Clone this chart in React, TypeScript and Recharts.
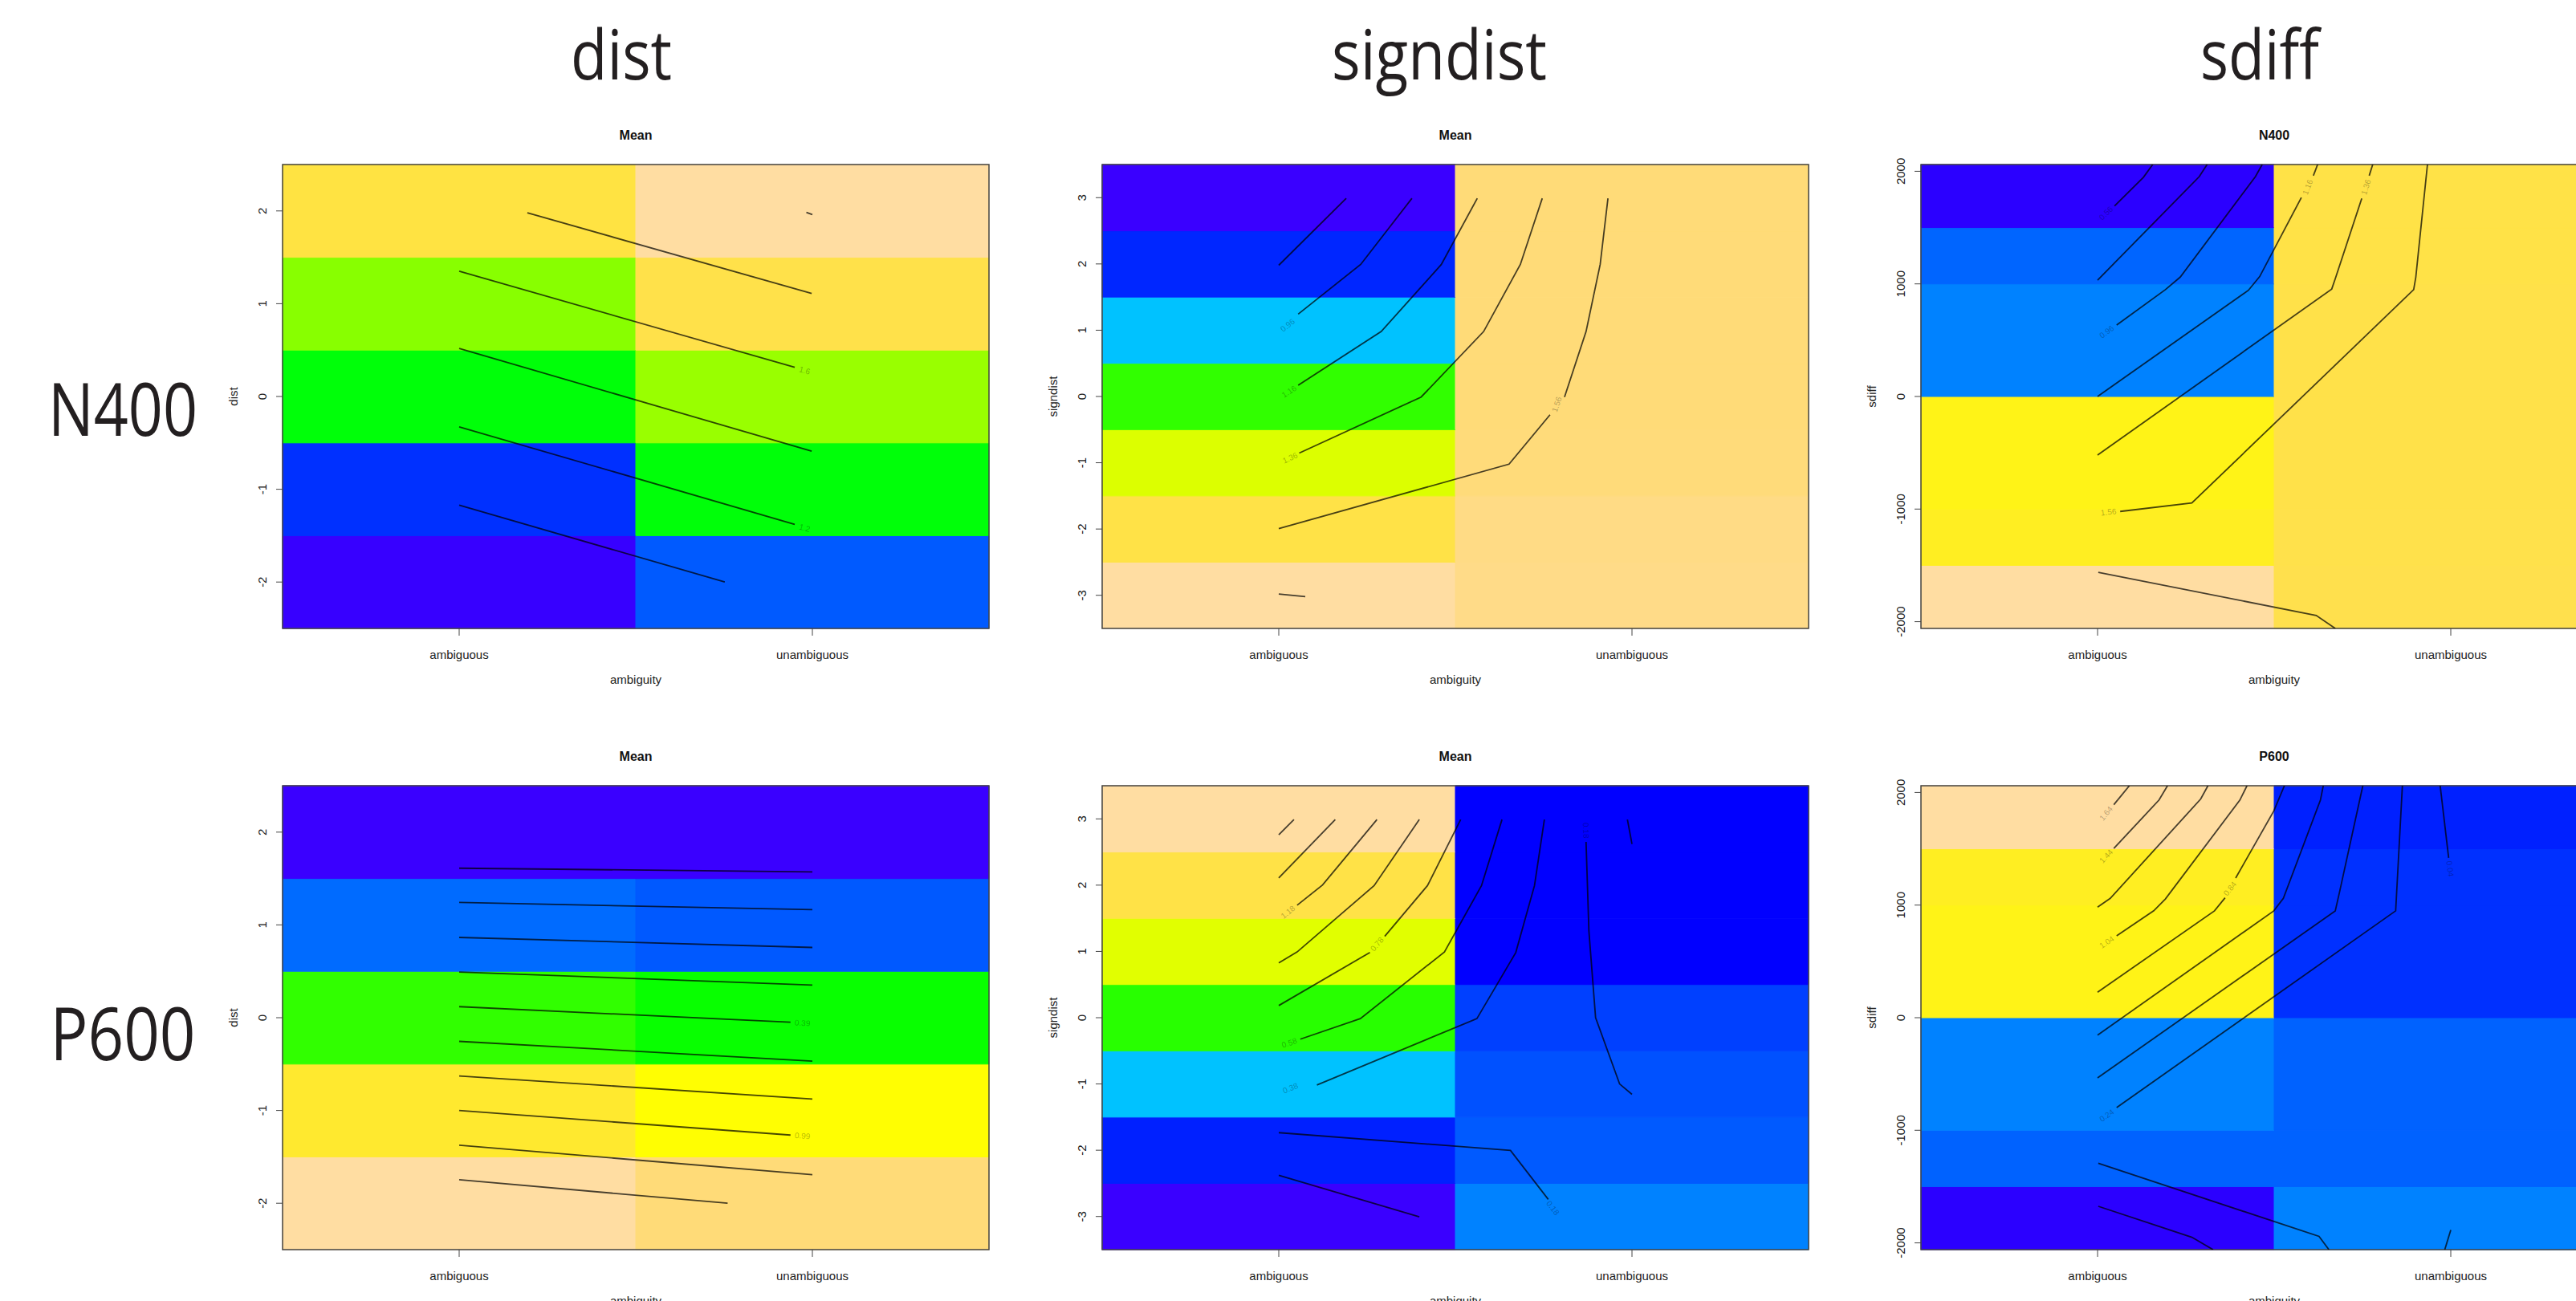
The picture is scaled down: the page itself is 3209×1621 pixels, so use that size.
import React from "react";
import { ComposedChart, XAxis, YAxis, ReferenceArea, Line, Scatter } from "recharts";

type Pt = [number, number];
type Contour = { pieces: Pt[][]; level?: string; at?: Pt };

// ---------- labels ----------
const categories = ["ambiguous", "unambiguous"];
const xName = "ambiguity";
const columnTitles = ["dist", "signdist", "sdiff"];
const rowTitles = ["N400", "P600"];
const panelTitles = [
  ["Mean", "Mean", "N400"],
  ["Mean", "Mean", "P600"],
];

// ---------- grids (row edges, bottom to top) and y ticks ----------
const distEdges = [-2.5, -1.5, -0.5, 0.5, 1.5, 2.5];
const signdistEdges = [-3.5, -2.5, -1.5, -0.5, 0.5, 1.5, 2.5, 3.5];
const sdiffEdges = [-2060, -1500, -1000, 0, 1000, 1500, 2060];
const distTicks = [-2, -1, 0, 1, 2];
const signdistTicks = [-3, -2, -1, 0, 1, 2, 3];
const sdiffTicks = [-2000, -1000, 0, 1000, 2000];

// ---------- fitted means per cell (bottom row first) + colour limits ----------
const n400DistAmb = [0.828, 0.963, 1.288, 1.478, 1.748];
const n400DistUnamb = [1.017, 1.288, 1.5, 1.765, 1.964];
const n400DistZlim = [0.8, 2.0];

const n400SigndistAmb = [1.724, 1.52, 1.348, 1.124, 0.914, 0.71, 0.584];
const n400SigndistUnamb = [1.664, 1.658, 1.634, 1.628, 1.628, 1.628, 1.628];
const n400SigndistZlim = [0.56, 1.76];

const n400SdiffAmb = [1.761, 1.449, 1.423, 0.793, 0.752, 0.548];
const n400SdiffUnamb = [1.553, 1.548, 1.544, 1.544, 1.54, 1.54];
const n400SdiffZlim = [0.5, 1.8];

const p600DistAmb = [1.534, 1.061, 0.434, -0.16, -0.556];
const p600DistUnamb = [1.358, 0.874, 0.335, -0.204, -0.556];
const p600DistZlim = [-0.6, 1.6];

const p600SigndistAmb = [-0.064, 0.112, 0.431, 0.728, 1.092, 1.34, 1.646];
const p600SigndistUnamb = [0.305, 0.226, 0.208, 0.175, 0.049, 0.049, 0.049];
const p600SigndistZlim = [-0.1, 1.7];

const p600SdiffAmb = [-0.03, 0.261, 0.328, 1.249, 1.287, 1.743];
const p600SdiffUnamb = [0.328, 0.261, 0.261, 0.157, 0.157, 0.124];
const p600SdiffZlim = [-0.1, 1.8];

// ---------- contour lines (x = 1 ambiguous, 2 unambiguous) ----------
const n400DistContours: Contour[] = [
  { pieces: [[[1.193, 1.98], [1.998, 1.11]]] },
  { pieces: [[[1.0, 1.35], [1.95, 0.315]]], level: "1.6", at: [1.978, 0.28] },
  { pieces: [[[1.0, 0.517], [1.998, -0.589]]] },
  { pieces: [[[1.0, -0.327], [1.95, -1.378]]], level: "1.2", at: [1.978, -1.417] },
  { pieces: [[[1.0, -1.171], [1.752, -2.0]]] },
  { pieces: [[[1.983, 1.984], [2.0, 1.961]]] },
];

const n400SigndistContours: Contour[] = [
  { pieces: [[[1, 1.98], [1.191, 2.99]]] },
  { pieces: [[[1.055, 1.243], [1.232, 1.993], [1.377, 2.99]]], level: "0.96", at: [1.025, 1.076] },
  { pieces: [[[1.055, 0.169], [1.29, 0.98], [1.46, 1.99], [1.562, 2.99]]], level: "1.16", at: [1.029, 0.075] },
  { pieces: [[[1.058, -0.854], [1.403, -0.009], [1.58, 0.98], [1.684, 1.993], [1.746, 2.99]]], level: "1.36", at: [1.032, -0.927] },
  {
    pieces: [
      [[1, -1.994], [1.652, -1.021], [1.768, -0.276]],
      [[1.809, -0.009], [1.87, 0.98], [1.91, 1.993], [1.932, 2.99]],
    ],
    level: "1.56",
    at: [1.787, -0.12],
  },
  { pieces: [[[1, -2.98], [1.075, -3.02]]] },
];

const n400SdiffContours: Contour[] = [
  { pieces: [[[1.048, 1692], [1.13, 1947], [1.156, 2060]]], level: "0.56", at: [1.024, 1628] },
  { pieces: [[[1, 1032], [1.288, 1953], [1.31, 2060]]] },
  { pieces: [[[1.054, 635], [1.192, 949], [1.234, 1060], [1.447, 1953], [1.466, 2060]]], level: "0.96", at: [1.026, 574] },
  {
    pieces: [
      [[1, 0], [1.427, 943], [1.459, 1065], [1.577, 1767]],
      [[1.611, 1961], [1.623, 2060]],
    ],
    level: "1.16",
    at: [1.595, 1859],
  },
  {
    pieces: [
      [[1, -521], [1.663, 954], [1.673, 1046], [1.748, 1759]],
      [[1.769, 1961], [1.779, 2060]],
    ],
    level: "1.36",
    at: [1.76, 1859],
  },
  { pieces: [[[1.064, -1021], [1.267, -946], [1.895, 949], [1.901, 1060], [1.934, 2060]]], level: "1.56", at: [1.031, -1026] },
  { pieces: [[[1.002, -1562], [1.619, -1945], [1.673, -2060]]] },
];

const p600DistContours: Contour[] = [
  { pieces: [[[1, 1.611], [2, 1.572]]] },
  { pieces: [[[1, 1.242], [2, 1.164]]] },
  { pieces: [[[1, 0.865], [2, 0.757]]] },
  { pieces: [[[1, 0.492], [2, 0.352]]] },
  { pieces: [[[1, 0.119], [1.938, -0.049]]], level: "0.39", at: [1.972, -0.056] },
  { pieces: [[[1, -0.255], [2, -0.468]]] },
  { pieces: [[[1, -0.628], [2, -0.877]]] },
  { pieces: [[[1, -1.001], [1.938, -1.265]]], level: "0.99", at: [1.972, -1.273] },
  { pieces: [[[1, -1.374], [2, -1.693]]] },
  { pieces: [[[1, -1.747], [1.76, -2.0]]] },
];

const p600SigndistContours: Contour[] = [
  { pieces: [[[1, 2.76], [1.043, 2.99]]] },
  { pieces: [[[1, 2.11], [1.16, 2.99]]] },
  { pieces: [[[1.052, 1.697], [1.124, 2.003], [1.278, 2.99]]], level: "1.18", at: [1.026, 1.594] },
  { pieces: [[[1, 0.827], [1.052, 0.992], [1.27, 1.993], [1.398, 2.99]]] },
  {
    pieces: [
      [[1, 0.183], [1.258, 0.983]],
      [[1.3, 1.227], [1.421, 1.993], [1.515, 2.99]],
    ],
    level: "0.78",
    at: [1.278, 1.11],
  },
  { pieces: [[[1.061, -0.324], [1.231, -0.014], [1.469, 0.992], [1.574, 1.993], [1.632, 2.99]]], level: "0.58", at: [1.03, -0.38] },
  { pieces: [[[1.108, -1.016], [1.561, -0.014], [1.671, 0.983], [1.724, 1.993], [1.752, 2.99]]], level: "0.38", at: [1.033, -1.063] },
  { pieces: [[[1.87, 2.652], [1.878, 1.312], [1.897, 0.0], [1.965, -1.0], [2.0, -1.157]]], level: "0.18", at: [1.87, 2.826] },
  { pieces: [[[1.987, 2.99], [2.0, 2.62]]] },
  { pieces: [[[1, -1.735], [1.656, -2.003], [1.763, -2.741]]], level: "0.18", at: [1.776, -2.87] },
  { pieces: [[[1, -2.379], [1.398, -3.004]]] },
];

const p600SdiffContours: Contour[] = [
  { pieces: [[[1.046, 1892], [1.09, 2060]]], level: "1.64", at: [1.024, 1814] },
  { pieces: [[[1.046, 1503], [1.174, 1933], [1.198, 2060]]], level: "1.44", at: [1.024, 1434] },
  { pieces: [[[1, 982], [1.036, 1060], [1.292, 1942], [1.3125, 2060]]] },
  { pieces: [[[1.054, 727], [1.159, 949], [1.192, 1054], [1.403, 1933], [1.423, 2060]]], level: "1.04", at: [1.026, 671] },
  {
    pieces: [
      [[1, 227], [1.331, 949], [1.361, 1065]],
      [[1.391, 1240], [1.499, 1836], [1.529, 2060]],
    ],
    level: "0.84",
    at: [1.375, 1146],
  },
  { pieces: [[[1, -155], [1.499, 949], [1.526, 1060], [1.631, 1933], [1.639, 2060]]] },
  { pieces: [[[1, -535], [1.673, 949], [1.685, 1115], [1.751, 2060]]] },
  { pieces: [[[1.054, -799], [1.844, 949], [1.863, 2060]]], level: "0.24", at: [1.026, -868] },
  { pieces: [[[1.97, 2060], [1.994, 1420]]], level: "0.04", at: [1.998, 1323] },
  { pieces: [[[1.002, -1293], [1.627, -1942], [1.655, -2060]]] },
  { pieces: [[[1.002, -1675], [1.267, -1950], [1.327, -2060]]] },
  { pieces: [[[2.0, -1886], [1.983, -2060]]] },
];

// ---------- layout ----------
const W = 3209;
const H = 1621;
const PLOT_LEFT = [352, 1373, 2393];
const PLOT_TOP = [205, 979];
const PLOT_W = 880;
const PLOT_H = 578;
const ML = 100;
const MT = 20;
const MR = 10;
const MB = 60;
const FONT_R = "'Liberation Sans', Arial, Helvetica, sans-serif";
const FONT_HEAD = "'Open Sans', 'DejaVu Sans', sans-serif";
const TITLE_X = [774, 1793, 2815];
const TITLE_LEN = [126, 268, 148];
const ROW_BASE = [543, 1321];
const ROW_LEN = [186, 181];

// R's topo.colors as a continuous scale
function topo(t: number) {
  const v = Math.max(0, Math.min(1, t));
  let h: number;
  let s = 1;
  if (v < 1 / 3) h = 258 - 72 * (v * 3);
  else if (v < 2 / 3) h = 138 - 72 * ((v - 1 / 3) * 3);
  else {
    const u = (v - 2 / 3) * 3;
    h = 60 - 24 * u;
    s = 1 - 0.7 * u;
  }
  const c = s;
  const x = c * (1 - Math.abs(((h / 60) % 2) - 1));
  const m = 1 - c;
  let r = 0, g = 0, b = 0;
  if (h < 60) [r, g, b] = [c, x, 0];
  else if (h < 120) [r, g, b] = [x, c, 0];
  else if (h < 180) [r, g, b] = [0, c, x];
  else if (h < 240) [r, g, b] = [0, x, c];
  else [r, g, b] = [x, 0, c];
  const to = (k: number) => Math.round((k + m) * 255);
  return `rgb(${to(r)},${to(g)},${to(b)})`;
}

type PanelSpec = {
  row: number;
  col: number;
  yName: string;
  edges: number[];
  ticks: number[];
  amb: number[];
  unamb: number[];
  zlim: number[];
  contours: Contour[];
};

const panels: PanelSpec[] = [
  { row: 0, col: 0, yName: "dist", edges: distEdges, ticks: distTicks, amb: n400DistAmb, unamb: n400DistUnamb, zlim: n400DistZlim, contours: n400DistContours },
  { row: 0, col: 1, yName: "signdist", edges: signdistEdges, ticks: signdistTicks, amb: n400SigndistAmb, unamb: n400SigndistUnamb, zlim: n400SigndistZlim, contours: n400SigndistContours },
  { row: 0, col: 2, yName: "sdiff", edges: sdiffEdges, ticks: sdiffTicks, amb: n400SdiffAmb, unamb: n400SdiffUnamb, zlim: n400SdiffZlim, contours: n400SdiffContours },
  { row: 1, col: 0, yName: "dist", edges: distEdges, ticks: distTicks, amb: p600DistAmb, unamb: p600DistUnamb, zlim: p600DistZlim, contours: p600DistContours },
  { row: 1, col: 1, yName: "signdist", edges: signdistEdges, ticks: signdistTicks, amb: p600SigndistAmb, unamb: p600SigndistUnamb, zlim: p600SigndistZlim, contours: p600SigndistContours },
  { row: 1, col: 2, yName: "sdiff", edges: sdiffEdges, ticks: sdiffTicks, amb: p600SdiffAmb, unamb: p600SdiffUnamb, zlim: p600SdiffZlim, contours: p600SdiffContours },
];

function labelAngle(c: Contour, pxX: number, pxY: number) {
  let best = Infinity;
  let ang = 0;
  const at = c.at as Pt;
  c.pieces.forEach((piece) =>
    piece.slice(1).forEach((q, i) => {
      const p0 = piece[i];
      const mx = ((p0[0] + q[0]) / 2 - at[0]) * pxX;
      const my = ((p0[1] + q[1]) / 2 - at[1]) * pxY;
      const d = mx * mx + my * my;
      if (d < best) {
        best = d;
        ang = (Math.atan2(-(q[1] - p0[1]) * pxY, (q[0] - p0[0]) * pxX) * 180) / Math.PI;
      }
    })
  );
  if (ang > 90) ang -= 180;
  if (ang < -90) ang += 180;
  return ang;
}

const YTick = (props: any) => {
  const { x, y, payload } = props;
  return (
    <text x={x} y={y} transform={`rotate(-90 ${x} ${y})`} textAnchor="middle" fontSize={15} fill="#222" fontFamily={FONT_R}>
      {payload.value}
    </text>
  );
};

const LevelLabel = (props: any) => {
  const { cx, cy, payload } = props;
  if (cx == null || cy == null) return <g />;
  return (
    <text
      x={cx}
      y={cy}
      transform={`rotate(${payload.angle} ${cx} ${cy})`}
      textAnchor="middle"
      dominantBaseline="central"
      fontSize={10}
      fill="#000"
      fillOpacity={0.3}
      fontFamily={FONT_R}
    >
      {payload.text}
    </text>
  );
};

function Panel({ p }: { p: PanelSpec }) {
  const lo = p.edges[0];
  const hi = p.edges[p.edges.length - 1];
  const pxX = PLOT_W / 2;
  const pxY = PLOT_H / (hi - lo);
  const color = (z: number) => topo((z - p.zlim[0]) / (p.zlim[1] - p.zlim[0]));
  const labels = p.contours
    .filter((c) => c.level)
    .map((c) => ({ x: (c.at as Pt)[0], y: (c.at as Pt)[1], text: c.level, angle: labelAngle(c, pxX, pxY) }));

  // cells get a thin stroke in their own colour so no seams show between them
  const cells: React.ReactNode[] = [];
  p.edges.slice(1).forEach((top, i) => {
    const ca = color(p.amb[i]);
    const cu = color(p.unamb[i]);
    cells.push(
      <ReferenceArea key={`a${i}`} x1={0.5} x2={1.5} y1={p.edges[i]} y2={top} fill={ca} fillOpacity={1} stroke={ca} strokeWidth={1} />
    );
    cells.push(
      <ReferenceArea key={`u${i}`} x1={1.5} x2={2.5} y1={p.edges[i]} y2={top} fill={cu} fillOpacity={1} stroke={cu} strokeWidth={1} />
    );
  });

  const lines: React.ReactNode[] = [];
  p.contours.forEach((c, ci) =>
    c.pieces.forEach((piece, pi) =>
      lines.push(
        <Line
          key={`c${ci}-${pi}`}
          data={piece.map(([x, y]) => ({ x, y }))}
          dataKey="y"
          type="linear"
          dot={false}
          activeDot={false}
          stroke="#000"
          strokeOpacity={0.72}
          strokeWidth={1.8}
          isAnimationActive={false}
        />
      )
    )
  );

  return (
    <div style={{ position: "absolute", left: PLOT_LEFT[p.col] - ML, top: PLOT_TOP[p.row] - MT }}>
      <ComposedChart width={ML + PLOT_W + MR} height={MT + PLOT_H + MB} margin={{ top: MT, right: MR, bottom: 0, left: 0 }}>
        <XAxis
          type="number"
          dataKey="x"
          domain={[0.5, 2.5]}
          ticks={[1, 2]}
          interval={0}
          allowDataOverflow
          height={MB}
          axisLine={false}
          tickSize={9}
          tickMargin={18}
          tickLine={{ stroke: "#444" }}
          tick={{ fontSize: 15, fill: "#222", fontFamily: FONT_R }}
          tickFormatter={(v: number) => categories[v - 1]}
        />
        <YAxis
          type="number"
          dataKey="y"
          domain={[lo, hi]}
          ticks={p.ticks}
          interval={0}
          allowDataOverflow
          width={ML}
          axisLine={false}
          tickSize={8}
          tickMargin={12}
          tickLine={{ stroke: "#444" }}
          tick={<YTick />}
        />
        {cells}
        <ReferenceArea x1={0.5} x2={2.5} y1={lo} y2={hi} fill="none" stroke="#444" strokeWidth={1.5} ifOverflow="visible" />
        {lines}
        <Scatter data={labels} dataKey="y" shape={<LevelLabel />} isAnimationActive={false} />
      </ComposedChart>
    </div>
  );
}

export default function App() {
  return (
    <div style={{ position: "absolute", left: 0, top: 0, width: W, height: H, overflow: "hidden", background: "#fff" }}>
      {panels.map((p) => (
        <Panel key={`${p.row}-${p.col}`} p={p} />
      ))}
      <svg width={W} height={H} style={{ position: "absolute", left: 0, top: 0, pointerEvents: "none" }}>
        {columnTitles.map((t, i) => (
          <text key={t} x={TITLE_X[i]} y={98.5} textAnchor="middle" fontSize={86} fill="#231f20" fontFamily={FONT_HEAD} textLength={TITLE_LEN[i]} lengthAdjust="spacingAndGlyphs">
            {t}
          </text>
        ))}
        {rowTitles.map((t, i) => (
          <text key={t} x={153} y={ROW_BASE[i]} textAnchor="middle" fontSize={91} fill="#231f20" fontFamily={FONT_HEAD} textLength={ROW_LEN[i]} lengthAdjust="spacingAndGlyphs">
            {t}
          </text>
        ))}
        {panels.map((p) => {
          const cx = PLOT_LEFT[p.col] + PLOT_W / 2;
          const top = PLOT_TOP[p.row];
          const yx = PLOT_LEFT[p.col] - 56;
          const yy = top + PLOT_H / 2;
          return (
            <g key={`t${p.row}-${p.col}`} fontFamily={FONT_R}>
              <text x={cx} y={top - 31} textAnchor="middle" fontSize={16} fontWeight="bold" fill="#111">
                {panelTitles[p.row][p.col]}
              </text>
              <text x={cx} y={top + PLOT_H + 69} textAnchor="middle" fontSize={15} fill="#222">
                {xName}
              </text>
              <text x={yx} y={yy} transform={`rotate(-90 ${yx} ${yy})`} textAnchor="middle" fontSize={15} fill="#222">
                {p.yName}
              </text>
            </g>
          );
        })}
      </svg>
    </div>
  );
}
